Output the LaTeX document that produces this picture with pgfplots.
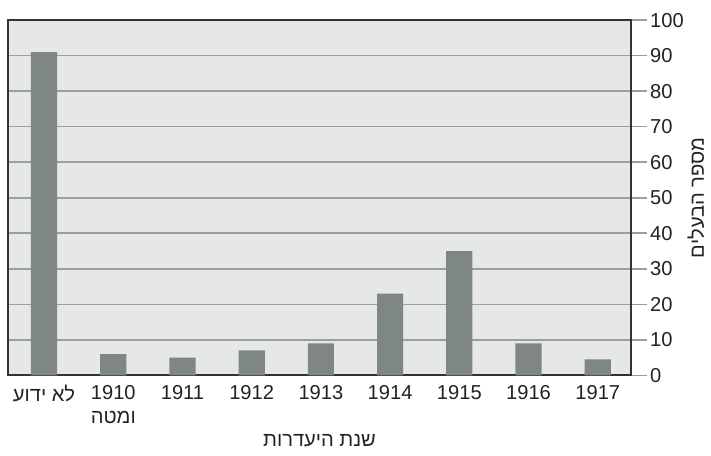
\documentclass[border=0pt]{standalone}
\usepackage{fontspec}
\setmainfont{Liberation Sans}
\newfontfamily\heb[Script=Hebrew]{Liberation Sans}
\TeXXeTstate=1
\usepackage{pgfplots}
\pgfplotsset{compat=1.18}
\definecolor{bg}{HTML}{E6E7E9}
\definecolor{barc}{HTML}{7F8784}
\definecolor{gridc}{HTML}{9A9E9E}
\definecolor{framec}{HTML}{333333}
\definecolor{txt}{HTML}{222222}
\begin{document}
\begin{tikzpicture}
\begin{axis}[
  width=309.5pt, height=176.5pt, scale only axis,
  xmin=-0.52, xmax=8.48, ymin=0, ymax=100,
  axis background/.style={fill=bg},
  ybar, bar width=13pt,
  axis line style={framec, line width=0.9pt},
  xtick=data,
  xticklabels={{\heb\beginR לא ידוע\endR},{1910\\\heb\beginR ומטה\endR},1911,1912,1913,1914,1915,1916,1917},
  xtick style={draw=none},
  xticklabel style={align=center, font=\fontsize{10}{12}\selectfont, text=txt, yshift=6.5pt},
  ytick={0,10,...,100},
  ytick pos=right, yticklabel pos=right,
  tick align=outside, major tick length=8pt,
  ytick style={gridc, line width=0.8pt},
  ymajorgrids, grid style={gridc, line width=0.8pt},
  yticklabel style={font=\fontsize{10}{12}\selectfont, text=txt, xshift=-2pt},
  /pgf/number format/assume math mode=true,
  ylabel={\heb\beginR מספר הבעלים\endR},
  ylabel shift=-5pt,
  ylabel style={font=\fontsize{10}{12}\selectfont, text=txt},
  xlabel={\heb\beginR שנת היעדרות\endR},
  xlabel style={font=\fontsize{10}{12}\selectfont, text=txt, yshift=1.5pt},
]
\addplot[fill=barc, draw=none] coordinates {
(0,91) (1,6) (2,5) (3,7) (4,9) (5,23) (6,35) (7,9) (8,4.5)
};
\end{axis}
\path ([xshift=-4pt,yshift=10pt]current axis.north west);
\path ([xshift=-4pt,yshift=-40pt]current axis.south west);
\end{tikzpicture}
\end{document}
